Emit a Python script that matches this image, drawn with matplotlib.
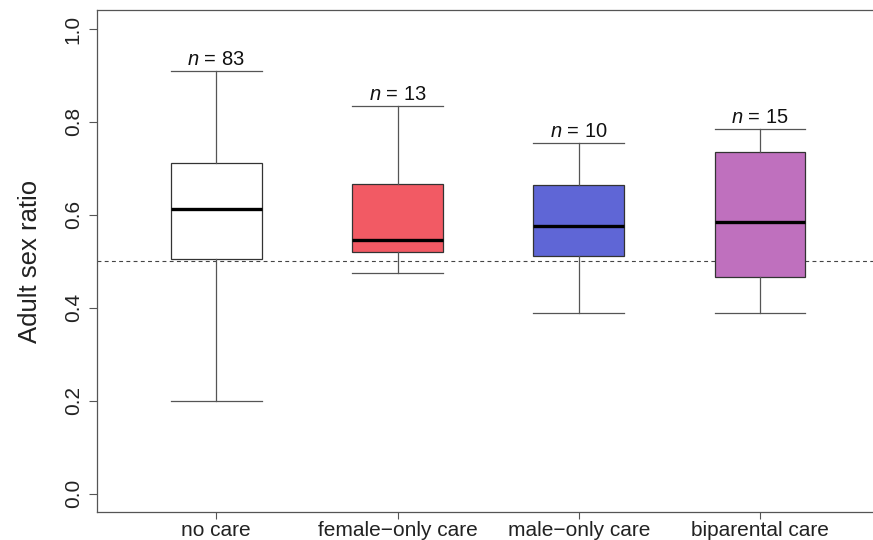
import matplotlib
matplotlib.use("Agg")
import matplotlib.pyplot as plt

plt.rcParams['font.family'] = ['Liberation Sans', 'DejaVu Sans']
plt.rcParams['mathtext.fontset'] = 'custom'
plt.rcParams['mathtext.it'] = 'Liberation Sans:italic'
plt.rcParams['mathtext.rm'] = 'Liberation Sans'

categories = ["no care", "female\u2212only care", "male\u2212only care", "biparental care"]
whisker_low = [0.200, 0.475, 0.388, 0.388]
q1 = [0.506, 0.521, 0.512, 0.466]
median = [0.613, 0.545, 0.577, 0.585]
q3 = [0.712, 0.666, 0.664, 0.735]
whisker_high = [0.909, 0.834, 0.754, 0.785]
n_obs = [83, 13, 10, 15]
colors = ["#FFFFFF", "#F25A64", "#5F66D6", "#BF70BE"]
yticks = [0.0, 0.2, 0.4, 0.6, 0.8, 1.0]
ref_line = 0.5

fig = plt.figure(figsize=(8.73, 5.40), dpi=100)
ax = fig.add_axes([96.7/873, 27.8/540, 782.9/873, 501.8/540])

stats = []
for i in range(len(categories)):
    stats.append(dict(med=median[i], q1=q1[i], q3=q3[i],
                      whislo=whisker_low[i], whishi=whisker_high[i],
                      fliers=[], label=categories[i]))

pos = list(range(1, len(categories) + 1))
bp = ax.bxp(stats, positions=pos, widths=0.5, patch_artist=True,
            showfliers=False,
            boxprops=dict(edgecolor="#333333", linewidth=0.9),
            whiskerprops=dict(color="#555555", linewidth=0.9),
            capprops=dict(color="#555555", linewidth=0.9),
            medianprops=dict(color="black", linewidth=2.4, solid_capstyle='butt'),
            capwidths=0.5)
for patch, c in zip(bp['boxes'], colors):
    patch.set_facecolor(c)
    patch.set_zorder(2)
for m in bp['medians']:
    m.set_zorder(3)

ax.axhline(ref_line, color="#444444", linewidth=0.8, linestyle=(0, (3.5, 3)), zorder=1.5)

for p, hi, n in zip(pos, whisker_high, n_obs):
    ax.annotate(r"$\it{n}$" + " = %d" % n, xy=(p, hi), xytext=(0, 1.5),
                textcoords="offset points", ha="center", va="bottom",
                fontsize=14.5, color="#111111")

ax.set_xlim(0.34, 4.66)
ax.set_ylim(-0.04, 1.04)
ax.set_yticks(yticks)
ax.set_yticklabels(["%.1f" % t for t in yticks], rotation=90, va="center", fontsize=15, color="#222222")
ax.set_xticks(pos)
ax.set_xticklabels(categories, fontsize=15, color="#222222")
ax.tick_params(axis="y", length=6, pad=4, color="#555555")
ax.tick_params(axis="x", length=5, pad=1.5, color="#555555")
for s in ax.spines.values():
    s.set_color("#555555")
    s.set_linewidth(0.9)
ax.set_ylabel("Adult sex ratio", fontsize=18.5, labelpad=16, color="#222222")

fig.savefig("out.png", dpi=100)
